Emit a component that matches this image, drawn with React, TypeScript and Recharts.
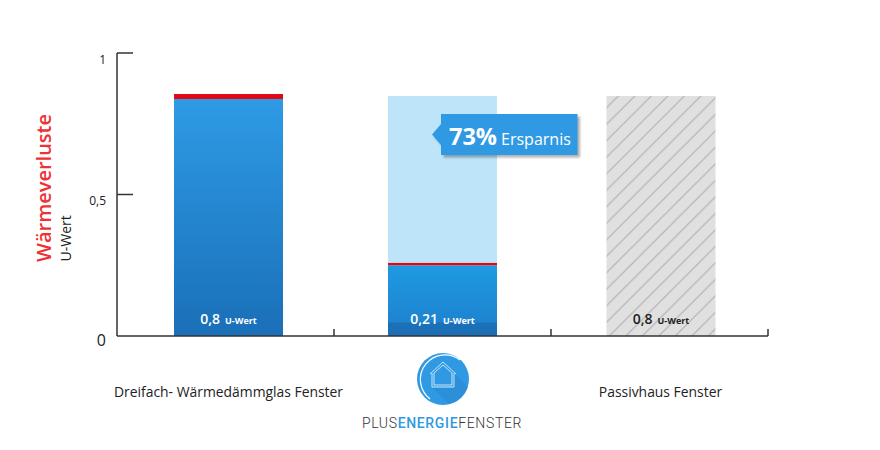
import React from "react";
import { BarChart, Bar, XAxis, YAxis, LabelList, Label } from "recharts";

const categories = ["Dreifach- Wärmedämmglas Fenster", "PLUSENERGIEFENSTER", "Passivhaus Fenster"];
const heatLoss = [0.8375, 0.25, 0];
const redCap = [0.0175, 0.009, 0];
const savedPart = [0, 0.589, 0];
const passivePart = [0, 0, 0.848];
const valueTexts = ["0,8", "0,21", "0,8"];
const yTicks = [0, 0.5, 1];
const yTickTexts = ["0", "0,5", "1"];
const savingPercent = "73%";
const savingWord = "Ersparnis";
const unit = "U-Wert";
const yTitle = "Wärmeverluste";

const data = categories.map((name, i) => ({
  name,
  heatLoss: heatLoss[i],
  redCap: redCap[i],
  savedPart: savedPart[i],
  passivePart: passivePart[i],
}));

const FONT = "'Open Sans', sans-serif";
const NUDGE = [3, 0, 1.5];
const BLUE = "#2f9ae3";

const nudged = (fill: any) => (p: any) => {
  const f = typeof fill === "function" ? fill(p.index) : fill;
  return <rect x={p.x + NUDGE[p.index]} y={p.y} width={p.width} height={p.height} fill={f} />;
};

const YTick = (p: any) => {
  const v = p.payload.value;
  const i = yTicks.indexOf(v);
  if (v === 0) {
    return (
      <text x={106} y={346} textAnchor="end" fontFamily={FONT} fontSize={16} fill="#222">
        {yTickTexts[i]}
      </text>
    );
  }
  return (
    <g>
      <line x1={117} x2={133} y1={p.y} y2={p.y} stroke="#333" strokeWidth={1.5} />
      <text x={106} y={p.y + (v === 1 ? 11 : 10)} textAnchor="end" fontFamily={FONT} fontSize={12} fill="#222">
        {yTickTexts[i]}
      </text>
    </g>
  );
};

const XTick = (p: any) => {
  const i = p.index;
  const tickX = 334 + i * 217;
  const axisY = 336;
  const cx = 443;
  const cy = 379;
  return (
    <g>
      <line x1={tickX} x2={tickX} y1={axisY - 7} y2={axisY} stroke="#333" strokeWidth={1.5} />
      {i !== 1 ? (
        <text x={p.x + NUDGE[i] - (i === 2 ? 0.5 : 0)} y={397} textAnchor="middle" fontFamily={FONT} fontSize={13.9} fill="#222">
          {p.payload.value}
        </text>
      ) : (
        <g>
          <circle cx={cx} cy={cy} r={26} fill={BLUE} />
          <path
            d={`M${cx - 11} ${cy - 6} L${cx - 11} ${cy + 9} L${cx + 11} ${cy + 9} L${cx + 11} ${cy - 6} L${cx + 25} ${cy + 8} A26 26 0 0 1 ${cx + 6} ${cy + 25} L${cx - 11} ${cy + 9} Z`}
            fill="#2a8bd0"
            opacity={0.6}
          />
          <path
            d={`M${cx + 17} ${cy - 19} A24 24 0 1 0 ${cx - 13} ${cy + 20}`}
            fill="none"
            stroke="#fff"
            strokeWidth={1.2}
          />
          <path
            d={`M${cx - 13} ${cy - 5} L${cx} ${cy - 17} L${cx + 13} ${cy - 5} M${cx - 11} ${cy - 6} L${cx - 11} ${cy + 8} L${cx + 11} ${cy + 8} L${cx + 11} ${cy - 6} M${cx - 9} ${cy - 6} L${cx} ${cy - 14} L${cx + 9} ${cy - 6} L${cx + 9} ${cy + 6} L${cx - 9} ${cy + 6} Z`}
            fill="none"
            stroke="#d8ecfa"
            strokeWidth={0.9}
          />
          <text x={442} y={428} textAnchor="middle" fontFamily="Roboto, sans-serif" fontWeight={300} fontSize={14} letterSpacing={0.65} fill="#333">
            <tspan>PLUS</tspan>
            <tspan fill={BLUE} fontWeight={500}>ENERGIE</tspan>
            <tspan>FENSTER</tspan>
          </text>
        </g>
      )}
    </g>
  );
};

const valueLabel = (color: string, wanted: number) => (p: any) => {
  if (p.index !== wanted) return null;
  const cx = p.x + p.width / 2 + NUDGE[wanted];
  return (
    <text x={cx} y={324} textAnchor="middle" fontFamily={FONT} fill={color}>
      <tspan fontSize={14} fontWeight={600}>{valueTexts[wanted]}</tspan>
      <tspan fontSize={9} fontWeight={700} dx={5}>{unit}</tspan>
    </text>
  );
};

const callout = (p: any) => {
  if (p.index !== 1) return null;
  const l = p.x + 53;
  const r = l + 136.5;
  const t = p.y + 18;
  const b = t + 41;
  const shape = `M${l} ${t} L${r} ${t} L${r} ${b} L${l} ${b} L${l} ${t + 31} L${l - 9} ${t + 20.5} L${l} ${t + 10} Z`;
  return (
    <g>
      <path d={shape} fill="#000" opacity={0.3} transform="translate(2.5 2.5)" filter="url(#soft)" />
      <path d={shape} fill={BLUE} />
      <text x={l + 8} y={t + 31} fontFamily={FONT} fill="#fff">
        <tspan fontSize={23.5} fontWeight={700}>{savingPercent}</tspan>
        <tspan fontSize={16} dx={4}>{savingWord}</tspan>
      </text>
    </g>
  );
};

const YTitles = () => (
  <g fontFamily={FONT}>
    <text transform="translate(51 262) rotate(-90)" fontSize={20} fontWeight={600} fill="#ee3135">{yTitle}</text>
    <text transform="translate(71 261.5) rotate(-90)" fontSize={14} fill="#222">{unit}</text>
  </g>
);

export default function App() {
  return (
    <div style={{ position: "absolute", left: 0, top: 0, width: 880, height: 450, background: "#fff" }}>
      <BarChart
        width={880}
        height={450}
        data={data}
        barSize={109}
        margin={{ top: 53, right: 112, bottom: 54, left: 57 }}
      >
        <defs>
          <linearGradient id="blueA" x1="0" y1="0" x2="0" y2="1">
            <stop offset="0" stopColor="#2e9be5" />
            <stop offset="1" stopColor="#1a6fb8" />
          </linearGradient>
          <linearGradient id="blueB" x1="0" y1="0" x2="0" y2="1">
            <stop offset="0" stopColor="#1f9ae3" />
            <stop offset="0.8" stopColor="#1e84d0" />
            <stop offset="0.82" stopColor="#1b70b8" />
            <stop offset="1" stopColor="#1b6eb5" />
          </linearGradient>
          <pattern id="hatch" width="16.5" height="16.5" patternUnits="userSpaceOnUse" patternTransform="translate(4.8 0)">
            <rect width="16.5" height="16.5" fill="#e0e0e0" />
            <path d="M-4 20.5 L20.5 -4 M-4 4 L4 -4 M12.5 20.5 L20.5 12.5" stroke="#b0b0b0" strokeWidth="1.2" />
          </pattern>
          <filter id="soft" x="-10%" y="-10%" width="120%" height="130%">
            <feGaussianBlur stdDeviation="1" />
          </filter>
        </defs>
        <XAxis
          dataKey="name"
          axisLine={{ stroke: "#333", strokeWidth: 1.5 }}
          tickLine={false}
          tick={XTick}
          height={60}
          interval={0}
        />
        <YAxis
          width={60}
          domain={[0, 1]}
          ticks={yTicks}
          axisLine={{ stroke: "#333", strokeWidth: 1.5 }}
          tickLine={false}
          tick={YTick}
        >
          <Label content={YTitles} />
        </YAxis>
        <Bar dataKey="heatLoss" stackId="s" isAnimationActive={false} shape={nudged((i: number) => (i === 0 ? "url(#blueA)" : "url(#blueB)"))}>
          <LabelList content={valueLabel("#fff", 0)} />
          <LabelList content={valueLabel("#fff", 1)} />
        </Bar>
        <Bar dataKey="redCap" stackId="s" isAnimationActive={false} shape={nudged("#e30613")} />
        <Bar dataKey="savedPart" stackId="s" isAnimationActive={false} shape={nudged("#bde4f8")}>
          <LabelList content={callout} />
        </Bar>
        <Bar dataKey="passivePart" stackId="s" isAnimationActive={false} shape={nudged("url(#hatch)")}>
          <LabelList content={valueLabel("#222", 2)} />
        </Bar>
      </BarChart>
    </div>
  );
}
